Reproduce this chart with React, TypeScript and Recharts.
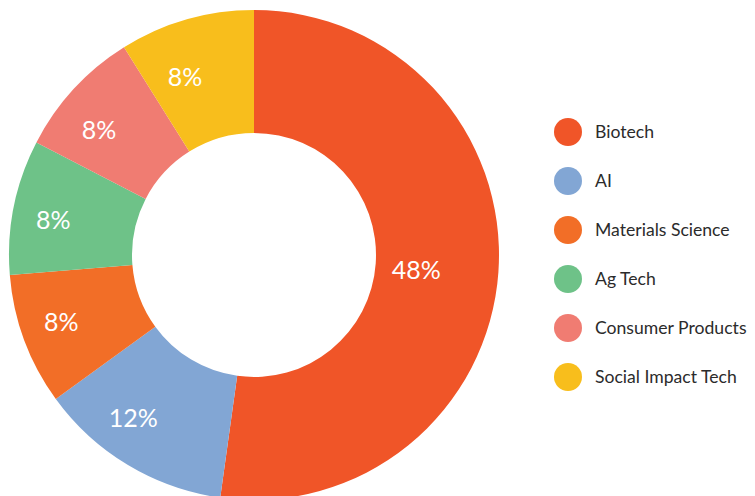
import React from "react";
import { Legend, Pie, PieChart } from "recharts";

const sectors = ["Biotech", "AI", "Materials Science", "Ag Tech", "Consumer Products", "Social Impact Tech"];
// slice sizes as drawn in the picture; the printed labels are rounded differently
const shares = [52.2, 12.8, 8.7, 8.9, 8.5, 8.9];
const printedLabels = ["48%", "12%", "8%", "8%", "8%", "8%"];
const colors = ["#F05528", "#82A6D4", "#F26E27", "#6EC288", "#F07C72", "#F8BE1C"];

const data = sectors.map((name, i) => ({ name, value: shares[i], label: printedLabels[i], fill: colors[i] }));

const RAD = Math.PI / 180;

// labels sit with their right edge on the slice's mid line
function SliceLabel(props: any) {
  const { cx, cy, midAngle, innerRadius, outerRadius, index } = props;
  const r = innerRadius + (outerRadius - innerRadius) * 0.53;
  const x = cx + r * Math.cos(-midAngle * RAD);
  const y = cy + r * Math.sin(-midAngle * RAD);
  return (
    <text
      x={x}
      y={y + 1}
      fill="#ffffff"
      textAnchor="end"
      dominantBaseline="central"
      fontFamily="Lato, 'Open Sans', sans-serif"
      fontSize={25}
    >
      {printedLabels[index]}
    </text>
  );
}

function SideLegend() {
  return (
    <ul style={{ listStyle: "none", margin: 0, padding: 0 }}>
      {data.map((d) => (
        <li key={d.name} style={{ display: "flex", alignItems: "center", height: 49 }}>
          <span
            style={{ width: 28, height: 28, borderRadius: "50%", background: d.fill, marginRight: 13, flex: "none" }}
          />
          <span style={{ fontFamily: "Lato, 'Open Sans', sans-serif", fontSize: 17.6, color: "#2b2b2b", whiteSpace: "nowrap" }}>
            {d.name}
          </span>
        </li>
      ))}
    </ul>
  );
}

export default function App() {
  return (
    <div style={{ width: 755, height: 496, background: "#fff", overflow: "hidden" }}>
      <style>{"body{margin:0}"}</style>
      <PieChart width={755} height={496} margin={{ top: 0, right: 0, bottom: 0, left: 0 }}>
        <Pie
          data={data}
          dataKey="value"
          nameKey="name"
          cx={254}
          cy={255}
          innerRadius={122}
          outerRadius={245}
          startAngle={90}
          endAngle={-270}
          stroke="none"
          labelLine={false}
          label={SliceLabel}
          isAnimationActive={false}
        />
        <Legend
          layout="vertical"
          verticalAlign="top"
          align="right"
          content={SideLegend}
          wrapperStyle={{ top: 107, left: 554, width: 201 }}
        />
      </PieChart>
    </div>
  );
}
